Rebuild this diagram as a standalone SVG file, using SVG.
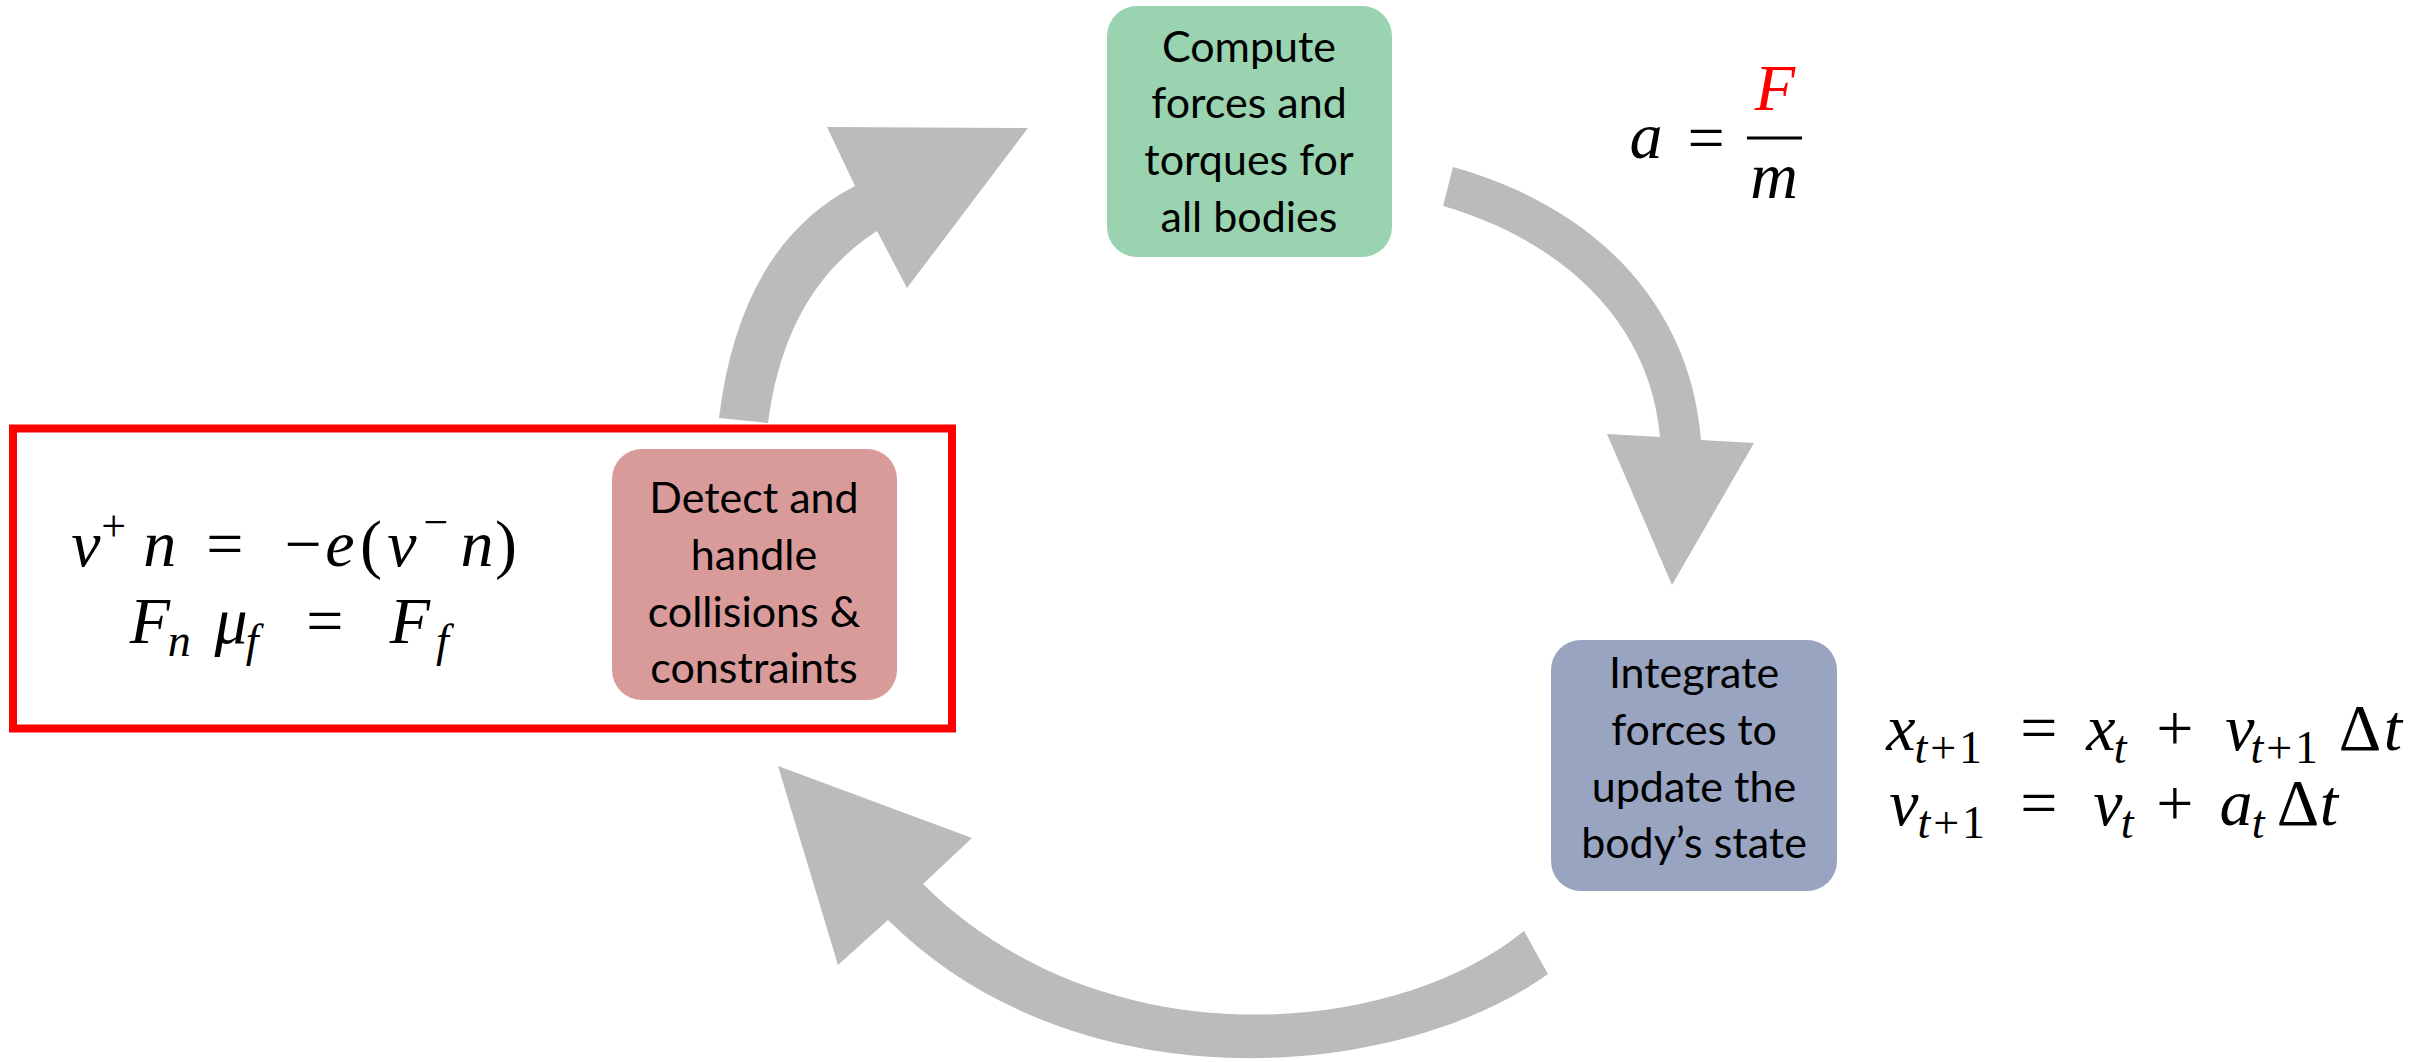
<svg xmlns="http://www.w3.org/2000/svg" width="2435" height="1062" viewBox="0 0 2435 1062">
<style>
.box-text{font-family:Lato,"Open Sans","Liberation Sans",sans-serif;font-size:43px;fill:#000;text-anchor:middle}
.m{font-family:"Liberation Serif","Times New Roman",serif;font-size:66px;fill:#000;text-anchor:middle}
.i{font-style:italic}
.s{font-size:46px;letter-spacing:3px}
.sup{font-size:44px}
.arrow{fill:#bbbbbb}
</style>
<rect width="2435" height="1062" fill="#ffffff"/>
<g id="connectors">
<path class="arrow" d="M768,423 Q785,290 877,231 L907,288 L1028,128 L827,127 L855,186 Q740,245 719,418 Z"/>
<path class="arrow" d="M1453,167 C1590,205 1690,300 1701,440 L1754,443 L1672,585 L1607,434 L1660,437 C1650,320 1560,240 1443,206 Z"/>
<path class="arrow" d="M1524,931 C1390,1040 1100,1060 923,884 L972,838 L778,766 L838,965 L888,920 C1080,1110 1400,1080 1548,974 Z"/>
</g>
<g id="collision-frame">
<rect x="13" y="428.5" width="939" height="300" fill="none" stroke="#ff0000" stroke-width="8"/>
</g>
<g id="node-compute">
<rect x="1107" y="6" width="285" height="251" rx="30" fill="#9ad3b0"/>
<text class="box-text"><tspan x="1249" y="62">Compute</tspan><tspan x="1249" y="118">forces and</tspan><tspan x="1249" y="175">torques for</tspan><tspan x="1249" y="232">all bodies</tspan></text>
</g>
<g id="node-integrate">
<rect x="1551" y="640" width="286" height="251" rx="30" fill="#98a4c0"/>
<text class="box-text"><tspan x="1694" y="688">Integrate</tspan><tspan x="1694" y="745">forces to</tspan><tspan x="1694" y="802">update the</tspan><tspan x="1694" y="858">body’s state</tspan></text>
</g>
<g id="node-detect">
<rect x="612" y="449" width="285" height="251" rx="30" fill="#d99a9a"/>
<text class="box-text"><tspan x="754" y="513">Detect and</tspan><tspan x="754" y="570">handle</tspan><tspan x="754" y="627">collisions &amp;</tspan><tspan x="754" y="683">constraints</tspan></text>
</g>
<g id="eq-acceleration">
<text class="m"><tspan class="i" x="1646" y="158">a</tspan><tspan x="1706" y="160">=</tspan><tspan class="i" x="1775" y="110" fill="#ff0000">F</tspan><tspan class="i" x="1774" y="198">m</tspan></text>
<line x1="1747" y1="138" x2="1802" y2="138" stroke="#000" stroke-width="3"/>
</g>
<g id="eq-integration">
<text class="m">
<tspan class="i" x="1901" y="750">x</tspan><tspan class="s" x="1958" y="763"><tspan class="i">t</tspan>+1</tspan>
<tspan x="2047" y="750">=</tspan>
<tspan class="i" x="2101" y="750">x</tspan><tspan class="i s" x="2130" y="763">t</tspan>
<tspan x="2183" y="750">+</tspan>
<tspan class="i" x="2240" y="750">v</tspan><tspan class="s" x="2294" y="763"><tspan class="i">t</tspan>+1</tspan>
<tspan x="2360" y="750">Δ</tspan><tspan class="i" x="2393" y="750">t</tspan>
</text>
<text class="m">
<tspan class="i" x="1904" y="825">v</tspan><tspan class="s" x="1961" y="838"><tspan class="i">t</tspan>+1</tspan>
<tspan x="2047" y="825">=</tspan>
<tspan class="i" x="2108" y="825">v</tspan><tspan class="i s" x="2137" y="838">t</tspan>
<tspan x="2183" y="825">+</tspan>
<tspan class="i" x="2236" y="825">a</tspan><tspan class="i s" x="2268" y="838">t</tspan>
<tspan x="2298" y="825">Δ</tspan><tspan class="i" x="2329" y="825">t</tspan>
</text>
</g>
<g id="eq-collision">
<text class="m">
<tspan class="i" x="86" y="566">v</tspan><tspan class="sup" x="122" y="541">+</tspan>
<tspan class="i" x="168" y="566">n</tspan>
<tspan x="233" y="566">=</tspan>
<tspan x="303" y="566">−</tspan><tspan class="i" x="340" y="566">e</tspan><tspan x="371" y="566">(</tspan><tspan class="i" x="402" y="566">v</tspan><tspan class="sup" x="436" y="537">−</tspan><tspan class="i" x="477" y="566">n</tspan><tspan x="506" y="566">)</tspan>
</text>
<text class="m">
<tspan class="i" x="150" y="643">F</tspan><tspan class="i s" x="189" y="656">n</tspan>
<tspan class="i" x="231" y="643">μ</tspan><tspan class="i s" x="262" y="656">f</tspan>
<tspan x="333" y="643">=</tspan>
<tspan class="i" x="410" y="643">F</tspan><tspan class="i s" x="444" y="656">f</tspan>
</text>
</g>
</svg>
